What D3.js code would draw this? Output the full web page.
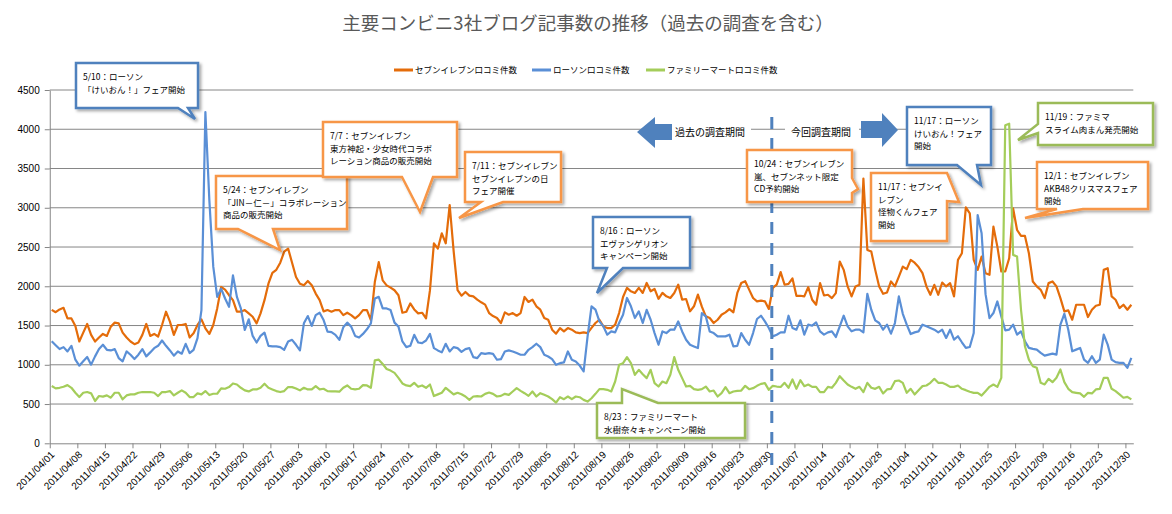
<!DOCTYPE html>
<html>
<head>
<meta charset="utf-8">
<script src="https://cdn.jsdelivr.net/npm/d3@7"></script>
<style>
  body { margin: 0; background: #fff; }
  text { font-family: "Noto Sans CJK JP", sans-serif; }
  .num { font-family: "Liberation Sans", Arial, sans-serif; }
</style>
</head>
<body>
<svg id="chart" width="1172" height="514"></svg>
<script>
// daily counts from 2011/04/01 to 2011/12/31
const startDate = new Date(2011, 3, 1);
const sevenElevenCounts = [
  1700,1670,1705,1726,1591,1591,1495,1297,1410,1520,
  1381,1297,1347,1393,1368,1486,1537,1528,1410,1347,
  1297,1263,1284,1381,1520,1368,1393,1360,1507,1676,
  1549,1381,1507,1507,1520,1347,1402,1507,1579,1465,
  1393,1507,1718,1991,1958,1886,1823,1676,1676,1697,
  1655,1612,1528,1655,1823,2033,2170,2210,2300,2440,
  2480,2300,2118,2033,2012,2067,2012,1907,1823,1680,
  1697,1676,1697,1697,1633,1663,1633,1591,1633,1697,
  1697,1570,2054,2307,2075,2012,1983,1949,1886,1663,
  1676,1781,1705,1655,1663,1591,1950,2547,2480,2674,
  2547,3035,2450,1950,1880,1928,1881,1872,1830,1796,
  1766,1659,1620,1596,1532,1668,1638,1659,1625,1659,
  1864,1800,1830,1745,1702,1596,1574,1447,1396,1468,
  1425,1468,1447,1413,1404,1413,1404,1470,1532,1574,
  1489,1468,1468,1511,1659,1864,1979,1936,1915,1979,
  1915,2042,1936,1966,1840,1915,1872,1851,1915,2021,
  1830,1838,1681,1745,1894,1740,1617,1596,1532,1574,
  1638,1668,1710,1668,1915,2042,2064,1957,1851,1808,
  1817,1808,1711,1979,2021,2180,2020,2030,2100,1879,
  1879,1871,1989,1828,1765,2040,1883,1892,1849,1913,
  2315,2209,1998,1871,1998,2019,3373,2463,2442,2209,
  1998,1904,1921,2061,1998,2124,2251,2218,2336,2300,
  2245,2167,1998,1892,2019,1892,2048,1998,2040,1871,
  2336,2421,3005,2929,2336,2209,2378,2167,2146,2759,
  2505,2188,2188,2357,2992,2717,2641,2641,2421,2061,
  1998,1955,1849,2040,2061,1998,1849,1680,1693,1574,
  1765,1765,1765,1608,1701,1752,1765,2209,2230,1871,
  1828,1722,1765,1701,1765
];
const lawsonCounts = [
  1300,1250,1200,1225,1170,1242,1065,989,1044,1099,
  1002,1107,1200,1255,1191,1183,1200,1086,1044,1170,
  1128,1074,1128,1200,1107,1158,1212,1242,1309,1242,
  1183,1116,1170,1141,1267,1149,1191,1339,1697,4220,
  3100,2250,1865,1970,1844,1739,2139,1865,1718,1444,
  1579,1368,1284,1368,1410,1242,1234,1234,1225,1191,
  1297,1318,1255,1183,1528,1621,1495,1633,1663,1570,
  1423,1415,1381,1318,1478,1537,1486,1368,1347,1393,
  1452,1528,1844,1865,1718,1718,1697,1537,1486,1297,
  1225,1242,1381,1284,1276,1309,1393,1212,1183,1158,
  1267,1170,1225,1212,1165,1200,1213,1098,1085,1149,
  1140,1149,1140,1064,1072,1170,1183,1170,1149,1128,
  1128,1191,1225,1268,1225,1128,1106,1072,1000,1021,
  1030,1170,1064,1042,990,915,1362,1745,1702,1553,
  1489,1383,1425,1413,1532,1638,1851,1745,1596,1681,
  1532,1700,1574,1404,1255,1425,1404,1447,1447,1553,
  1425,1319,1255,1234,1213,1659,1617,1425,1404,1362,
  1362,1362,1383,1234,1242,1404,1319,1255,1404,1583,
  1625,1553,1468,1362,1383,1413,1413,1625,1469,1447,
  1566,1384,1511,1498,1540,1426,1384,1413,1426,1354,
  1490,1625,1490,1426,1447,1447,1413,1904,1701,1566,
  1532,1447,1511,1397,1532,1871,1650,1511,1392,1413,
  1426,1511,1490,1469,1447,1413,1447,1342,1447,1320,
  1363,1287,1215,1227,1405,2907,2675,1900,1595,1659,
  1807,1617,1439,1447,1511,1384,1426,1299,1215,1202,
  1193,1151,1117,1130,1143,1130,1511,1650,1447,1172,
  1193,1215,1066,1024,1109,1024,1066,1384,1257,1066,
  1033,1024,1024,961,1088
];
const familyMartCounts = [
  730,700,707,720,741,707,644,589,644,653,
  636,539,602,594,610,581,644,644,560,610,
  623,623,644,653,653,653,644,602,653,653,
  665,610,644,674,644,589,589,636,623,665,
  615,631,631,699,695,716,762,749,707,674,
  661,686,686,707,758,707,686,665,653,665,
  716,716,699,674,707,686,686,728,686,695,
  665,661,661,657,707,737,695,686,695,741,
  737,707,1057,1065,1010,947,926,897,834,762,
  737,728,770,720,737,707,749,602,623,644,
  707,665,623,644,625,596,553,596,600,596,
  630,647,630,596,604,630,617,660,702,668,
  638,604,660,596,638,617,596,562,519,587,
  562,596,562,596,587,553,532,574,630,690,
  689,681,660,787,1000,1021,1098,1021,872,936,
  880,830,936,766,723,787,766,872,1098,936,
  830,723,732,689,681,689,723,660,672,596,
  638,715,638,660,668,672,732,689,702,732,
  757,766,681,732,723,717,770,707,813,694,
  804,728,749,719,719,652,652,719,707,770,
  855,800,749,719,694,719,652,770,707,694,
  719,635,686,694,791,800,770,643,694,622,
  677,728,736,770,821,770,770,749,719,719,
  736,694,677,656,643,643,609,664,719,749,
  719,834,4050,4070,2400,2378,1701,1236,1066,982,
  961,770,749,821,779,834,940,779,694,652,
  643,635,592,643,635,686,694,834,834,694,
  664,622,580,592,560
];
const seriesNames = ["セブンイレブン口コミ件数", "ローソン口コミ件数", "ファミリーマート口コミ件数"];
const yTickValues = [0, 500, 1000, 1500, 2000, 2500, 3000, 3500, 4000, 4500];
const surveyStart = new Date(2011, 9, 1);
const periodLabels = ["過去の調査期間", "今回調査期間"];
const chartTitle = "主要コンビニ3社ブログ記事数の推移（過去の調査を含む）";

// callout annotations: text + box layout
const callouts = [
  {lines: ["5/10：ローソン", "「けいおん！」フェア開始"], c: "blue",
   box: [76, 63, 198, 108], side: "bottom", base: [178, 188], tip: [195, 119]},
  {lines: ["5/24：セブンイレブン", "「JIN－仁－」コラボレーション", "商品の販売開始"], c: "orange",
   box: [216, 176, 347, 229], side: "bottom", base: [238, 273], tip: [280, 250]},
  {lines: ["7/7：セブンイレブン", "東方神起・少女時代コラボ", "レーション商品の販売開始"], c: "orange",
   box: [323, 122, 457, 177], side: "bottom", base: [402, 433], tip: [420, 212]},
  {lines: ["7/11：セブンイレブン", "セブンイレブンの日", "フェア開催"], c: "orange",
   box: [465, 152, 561, 202], side: "bottom", base: [481, 503], tip: [459, 218]},
  {lines: ["8/16：ローソン", "エヴァンゲリオン", "キャンペーン開始"], c: "blue",
   box: [593, 217, 690, 268], side: "bottom", base: [607, 623], tip: [597, 293]},
  {lines: ["8/23：ファミリーマート", "水樹奈々キャンペーン開始"], c: "green",
   box: [597, 403, 745, 438], side: "top", base: [622, 658], tip: [622, 389]},
  {lines: ["10/24：セブンイレブン", "嵐、セブンネット限定", "CD予約開始"], c: "orange",
   box: [747, 150, 852, 202], side: "right", base: [178, 193], tip: [858, 189]},
  {lines: ["11/17：セブンイ", "レブン", "怪物くんフェア", "開始"], c: "orange",
   box: [871, 173, 947, 241], side: "right", base: [173, 201], tip: [959, 202]},
  {lines: ["11/17：ローソン", "けいおん！フェア", "開始"], c: "blue",
   box: [907, 107, 991, 165], side: "bottom", base: [957, 977], tip: [981, 185]},
  {lines: ["11/19：ファミマ", "スライム肉まん発売開始"], c: "green",
   box: [1038, 103, 1153, 145], side: "left", base: [124, 133], tip: [1018, 140]},
  {lines: ["12/1：セブンイレブン", "AKB48クリスマスフェア", "開始"], c: "orange",
   box: [1037, 162, 1148, 209], side: "bottom", base: [1057, 1083], tip: [1025, 218]}
];

const lineColors = ["#E46C0A", "#5A8FD6", "#A4CD5A"];
const boxColors = {orange: "#F79646", blue: "#4F81BD", green: "#9BBB59"};

const svg = d3.select("#chart");
const defs = svg.append("defs");
defs.append("filter").attr("id", "shadow")
  .attr("x", "-10%").attr("y", "-10%").attr("width", "130%").attr("height", "140%")
  .append("feDropShadow")
  .attr("dx", 2).attr("dy", 2).attr("stdDeviation", 1.4)
  .attr("flood-color", "#000").attr("flood-opacity", 0.35);

const endDate = d3.timeDay.offset(startDate, sevenElevenCounts.length);
const x = d3.scaleTime().domain([startDate, endDate]).range([49.75, 1133.3]);
const y = d3.scaleLinear().domain([0, 4500]).range([443.3, 90]);
const dayMid = i => d3.timeHour.offset(d3.timeDay.offset(startDate, i), 12);

// title
svg.append("text")
  .attr("x", 588).attr("y", 30)
  .attr("text-anchor", "middle")
  .attr("font-size", 18.5)
  .attr("fill", "#595959")
  .text(chartTitle);

// gridlines
svg.append("g")
  .selectAll("line")
  .data(yTickValues.filter(d => d > 0))
  .enter().append("line")
  .attr("x1", 49.75).attr("x2", 1133.3)
  .attr("y1", d => y(d)).attr("y2", d => y(d))
  .attr("stroke", "#868686").attr("stroke-width", 1);

// axes
const yAxis = svg.append("g")
  .attr("transform", "translate(49.75,0)")
  .call(d3.axisLeft(y).tickValues(yTickValues).tickFormat(d3.format("d"))
    .tickSize(5).tickSizeOuter(0).tickPadding(5));
yAxis.selectAll("text").attr("class", "num").attr("font-size", 10).attr("fill", "#000");
yAxis.selectAll("line, path").attr("stroke", "#868686");

const weekTicks = d3.range(0, sevenElevenCounts.length, 7).map(i => d3.timeDay.offset(startDate, i));
const xAxis = svg.append("g")
  .attr("transform", "translate(0,443.3)")
  .call(d3.axisBottom(x).tickValues(weekTicks).tickFormat(d3.timeFormat("%Y/%m/%d"))
    .tickSize(5).tickSizeOuter(0));
xAxis.selectAll("line, path").attr("stroke", "#868686");
xAxis.selectAll("text")
  .attr("class", "num")
  .attr("font-size", 10)
  .attr("fill", "#000")
  .attr("text-anchor", "end")
  .attr("dy", null)
  .attr("y", null)
  .attr("transform", "translate(5,12) rotate(-45)");

// series
const line = d3.line()
  .x((d, i) => x(dayMid(i)))
  .y(d => y(d));
const allSeries = [sevenElevenCounts, lawsonCounts, familyMartCounts];
svg.append("g")
  .selectAll("path")
  .data(allSeries)
  .enter().append("path")
  .attr("d", line)
  .attr("fill", "none")
  .attr("stroke", (d, i) => lineColors[i])
  .attr("stroke-width", 2.2)
  .attr("stroke-linejoin", "round");

// legend
const legendX = [394, 532, 646];
const legend = svg.append("g").selectAll("g")
  .data(seriesNames).enter().append("g")
  .attr("transform", (d, i) => `translate(${legendX[i]},70)`);
legend.append("line")
  .attr("x1", 0).attr("x2", 19)
  .attr("stroke", (d, i) => lineColors[i]).attr("stroke-width", 3);
legend.append("text")
  .attr("x", 21).attr("y", 3)
  .attr("font-size", 8.5)
  .attr("fill", "#000")
  .text(d => d);

// survey boundary
const bx = x(surveyStart) + 1;
svg.append("line")
  .attr("x1", bx).attr("x2", bx)
  .attr("y1", 117).attr("y2", 470)
  .attr("stroke", "#4F81BD").attr("stroke-width", 3)
  .attr("stroke-dasharray", "12,9");

// period arrows and labels
svg.append("rect").attr("x", 672).attr("y", 122).attr("width", 79).attr("height", 19).attr("fill", "#fff");
svg.append("rect").attr("x", 785).attr("y", 122).attr("width", 74).attr("height", 19).attr("fill", "#fff");
svg.append("polygon")
  .attr("points", "637,132 655,117 655,124 672,124 672,140 655,140 655,148")
  .attr("fill", "#4F81BD");
svg.append("polygon")
  .attr("points", "898,130 882,113 882,121 861,121 861,138 882,138 882,147")
  .attr("fill", "#4F81BD");
svg.append("text").attr("x", 675).attr("y", 136).attr("font-size", 10).attr("fill", "#000").text(periodLabels[0]);
svg.append("text").attr("x", 791).attr("y", 136).attr("font-size", 10).attr("fill", "#000").text(periodLabels[1]);

// callouts
function calloutPath(c) {
  const [x0, y0, x1, y1] = c.box;
  const [p1, p2] = c.base;
  const t = c.tip.join(",");
  let d = `M${x0},${y0}`;
  if (c.side === "top") d += `L${p1},${y0}L${t}L${p2},${y0}`;
  d += `L${x1},${y0}`;
  if (c.side === "right") d += `L${x1},${p1}L${t}L${x1},${p2}`;
  d += `L${x1},${y1}`;
  if (c.side === "bottom") d += `L${p2},${y1}L${t}L${p1},${y1}`;
  d += `L${x0},${y1}`;
  if (c.side === "left") d += `L${x0},${p2}L${t}L${x0},${p1}`;
  return d + "Z";
}
const co = svg.append("g").selectAll("g")
  .data(callouts).enter().append("g");
co.append("path")
  .attr("d", calloutPath)
  .attr("fill", "#fff")
  .attr("stroke", d => boxColors[d.c])
  .attr("stroke-width", 2.5)
  .attr("stroke-linejoin", "miter")
  .attr("filter", "url(#shadow)");
co.each(function(d) {
  const g = d3.select(this);
  d.lines.forEach((s, i) => {
    g.append("text")
      .attr("x", d.box[0] + 7)
      .attr("y", d.box[1] + 17 + i * 12.5)
      .attr("font-size", 8.5)
      .attr("fill", "#000")
      .text(s);
  });
});
</script>
</body>
</html>
